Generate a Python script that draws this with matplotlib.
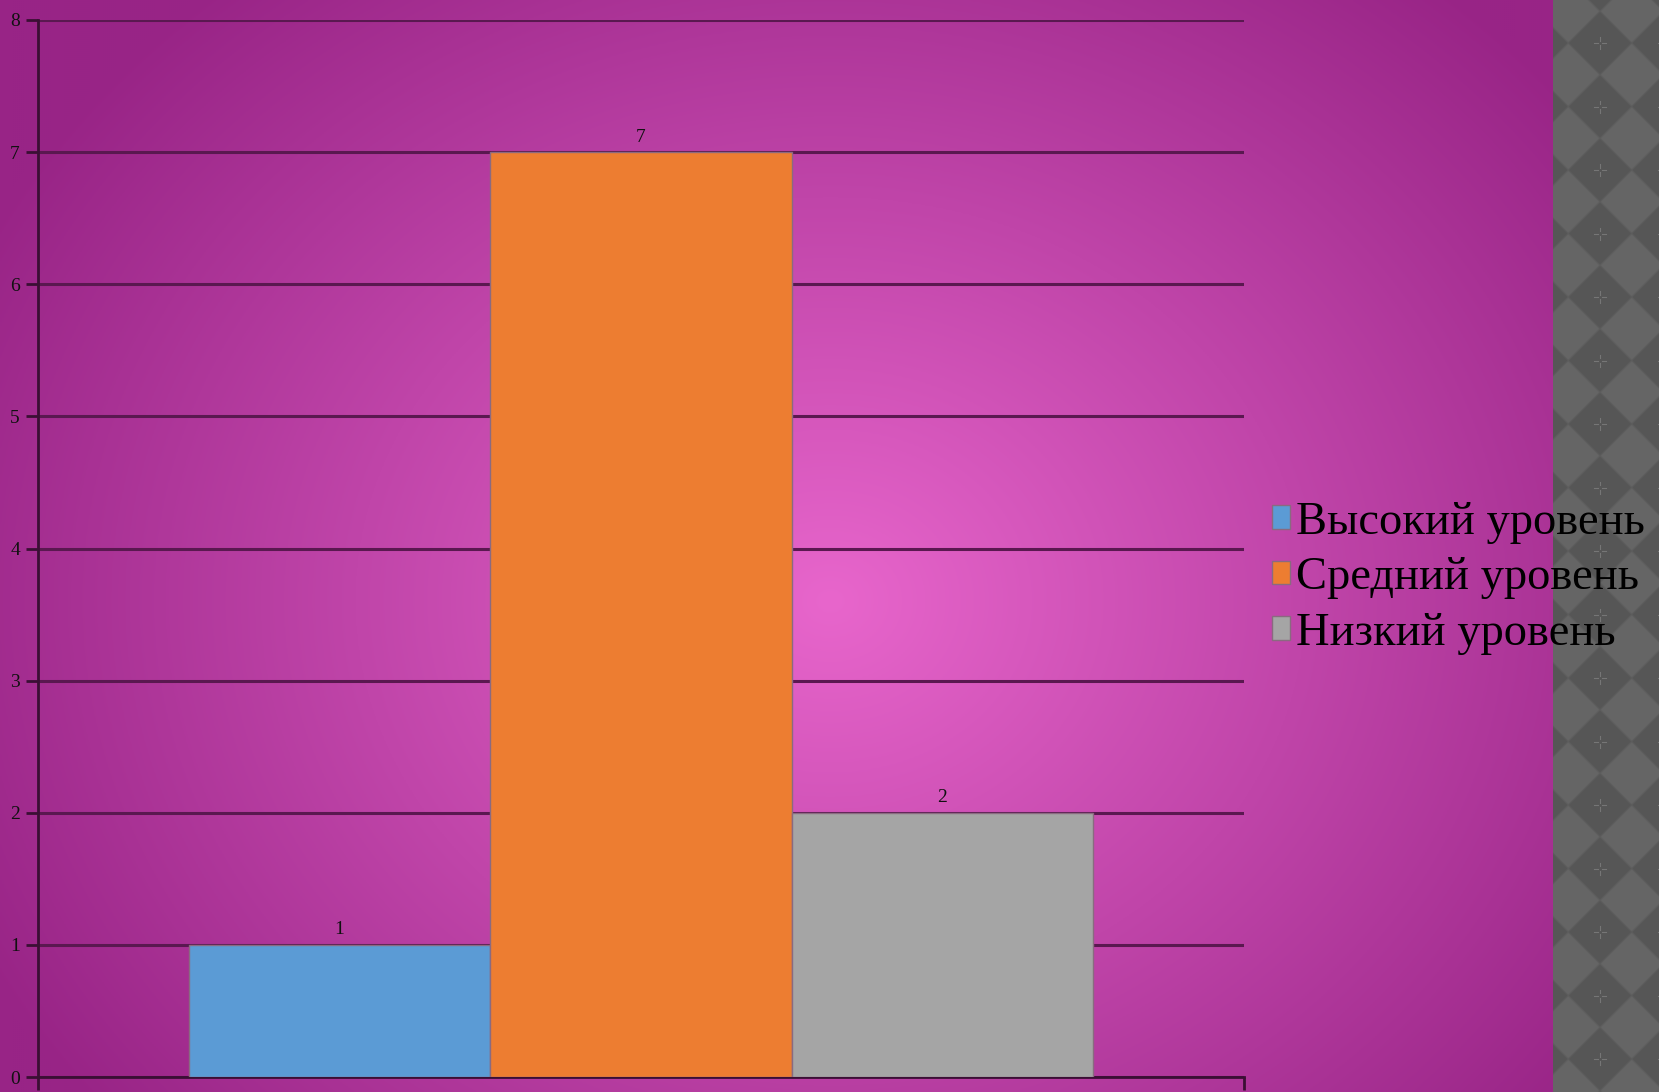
import numpy as np
import matplotlib.pyplot as plt
from matplotlib.patches import Polygon, Patch

# data
categories = ['Высокий уровень', 'Средний уровень', 'Низкий уровень']
values = [1, 7, 2]
colors = ['#5b9bd5', '#ed7d31', '#a5a5a5']
yticks = [0, 1, 2, 3, 4, 5, 6, 7, 8]

W, H = 1659, 1092
fig = plt.figure(figsize=(W / 100, H / 100), dpi=100)

# background: radial magenta gradient
bg = fig.add_axes([0, 0, 1, 1])
bg.set_xlim(0, W)
bg.set_ylim(H, 0)
bg.axis('off')
yy, xx = np.mgrid[0:H:2, 0:W:2]
r = np.sqrt(((xx - 830) / 1000.0) ** 2 + ((yy - 600) / 850.0) ** 2)
r = np.clip(r / 0.95, 0, 1)
c0 = np.array([0xe8, 0x66, 0xcc]) / 255.0
c1 = np.array([0x98, 0x24, 0x86]) / 255.0
img = c0[None, None, :] * (1 - r[..., None]) + c1[None, None, :] * r[..., None]
bg.imshow(img, extent=[0, W, H, 0], aspect='auto', zorder=0)

# grey diamond strip on the right, in its own axes so it clips itself
x0s = 1553
st = fig.add_axes([x0s / W, 0, (W - x0s) / W, 1])
st.set_xlim(x0s, W)
st.set_ylim(H, 0)
st.axis('off')
st.add_patch(plt.Rectangle((x0s, 0), W - x0s, H, color='#656565', zorder=0))
d = 63.5
for n in range(-1, 20):
    for m in range(-2, 3):
        cx, cy = 1600 + m * d, 43 + n * d
        st.add_patch(Polygon([(cx, cy - d / 2), (cx + d / 2, cy), (cx, cy + d / 2), (cx - d / 2, cy)],
                             closed=True, facecolor='#565656', edgecolor='#5d5d5d', lw=0.8, zorder=1))
        for dx, dy in [(-6, 0), (6, 0), (0, -6), (0, 6)]:
            st.plot([cx + dx * 0.35, cx + dx], [cy + dy * 0.35, cy + dy],
                    color='#767676', lw=0.8, zorder=2)

# main chart
ax = fig.add_axes([38 / W, 15 / H, 1206 / W, 1057 / H])
ax.patch.set_alpha(0)
pos = [(i - 1) * 0.25 for i in range(len(values))]
bars = ax.bar(pos, values, width=0.25, color=colors, edgecolor='#8a6a80', linewidth=1, zorder=3)
for b, v in zip(bars, values):
    ax.text(b.get_x() + b.get_width() / 2, v + 0.05, str(v), ha='center', va='bottom',
            fontsize=14, family='Liberation Serif', color='#111111', zorder=4)

ax.set_xlim(-0.5, 0.5)
ax.set_ylim(0, 8)
ax.set_yticks(yticks)
ax.set_yticklabels([str(t) for t in yticks], fontsize=14, family='Liberation Serif', color='#111111')
ax.set_xticks([-0.5, 0.5])
ax.set_xticklabels(['', ''])
ax.yaxis.grid(True, color='#5a1850', linewidth=2.2, zorder=1)
ax.set_axisbelow(True)
for s in ['top', 'right']:
    ax.spines[s].set_visible(False)
for s in ['left', 'bottom']:
    ax.spines[s].set_color('#3a0f34')
    ax.spines[s].set_linewidth(2)
ax.tick_params(axis='y', length=9, width=2, color='#3a0f34', pad=4)
ax.tick_params(axis='x', length=9, width=2, color='#3a0f34')

handles = [Patch(facecolor=c, edgecolor='#8a6a80') for c in colors]
leg = fig.legend(handles, categories, loc='center left', bbox_to_anchor=(1253 / W, 1 - 578 / H),
                 frameon=False, prop={'family': 'Liberation Serif', 'size': 33.5},
                 handlelength=0.4, handleheight=0.4, handletextpad=0.12, labelspacing=0.28,
                 borderaxespad=0)
leg.set_zorder(10)

fig.savefig('out.png', dpi=100)
